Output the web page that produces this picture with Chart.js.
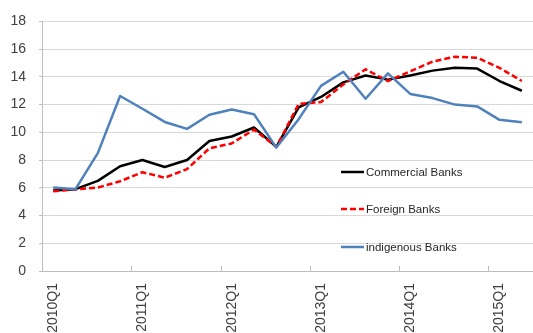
<!DOCTYPE html>
<html>
<head>
<meta charset="utf-8">
<script src="https://cdn.jsdelivr.net/npm/chart.js@4.4.1/dist/chart.umd.min.js"></script>
<style>
  html, body { margin: 0; padding: 0; background: #fff; }
  #wrap { width: 533px; height: 333px; }
</style>
</head>
<body>
<div id="wrap"><canvas id="ratioChart" width="533" height="333"></canvas></div>
<script>
// quarterly series, 2010Q1 - 2015Q2
const quarters = [
    '2010Q1', '2010Q2', '2010Q3', '2010Q4',
    '2011Q1', '2011Q2', '2011Q3', '2011Q4',
    '2012Q1', '2012Q2', '2012Q3', '2012Q4',
    '2013Q1', '2013Q2', '2013Q3', '2013Q4',
    '2014Q1', '2014Q2', '2014Q3', '2014Q4',
    '2015Q1', '2015Q2'
];
const commercialBanks = [5.8, 5.9, 6.5, 7.55, 8.0, 7.5, 8.0, 9.37, 9.7, 10.35, 8.95,
    11.8, 12.55, 13.6, 14.1, 13.8, 14.1, 14.45, 14.65, 14.6, 13.7, 13.0];
const foreignBanks = [5.75, 5.88, 6.02, 6.47, 7.12, 6.73, 7.35, 8.85, 9.2, 10.2, 8.95,
    12.05, 12.18, 13.45, 14.55, 13.7, 14.4, 15.1, 15.45, 15.38, 14.65, 13.7];
const indigenousBanks = [6.02, 5.9, 8.5, 12.62, 11.7, 10.75, 10.25, 11.27, 11.65, 11.3, 8.9,
    10.95, 13.35, 14.37, 12.42, 14.25, 12.77, 12.47, 12.0, 11.87, 10.9, 10.72];
const yTicks = [0, 2, 4, 6, 8, 10, 12, 14, 16, 18];

const axisGrey = '#bfbfbf';
const textColor = '#404040';
const tickFont = { family: '"Liberation Sans", Arial, sans-serif', size: 14 };

// legend sits inside the plot area, one row per series, spread out vertically
const insideLegend = {
    id: 'insideLegend',
    afterDraw(chart, args, opts) {
        const ctx = chart.ctx;
        ctx.save();
        ctx.font = opts.font;
        ctx.textBaseline = 'middle';
        chart.data.datasets.forEach((ds, i) => {
            const y = opts.rows[i];
            ctx.beginPath();
            ctx.strokeStyle = ds.borderColor;
            ctx.lineWidth = ds.borderWidth;
            ctx.setLineDash(ds.borderDash || []);
            ctx.moveTo(opts.x, y);
            ctx.lineTo(opts.x + opts.sample, y);
            ctx.stroke();
            ctx.setLineDash([]);
            ctx.fillStyle = '#262626';
            ctx.fillText(ds.label, opts.x + opts.sample + 2, y + 1);
        });
        ctx.restore();
    }
};

// small tick marks pointing up from the x axis, one per year
const yearTicks = {
    id: 'yearTicks',
    afterDatasetsDraw(chart) {
        const xs = chart.scales.x;
        const ctx = chart.ctx;
        const half = (xs.getPixelForValue(1) - xs.getPixelForValue(0)) / 2;
        const bottom = chart.chartArea.bottom;
        ctx.save();
        ctx.strokeStyle = axisGrey;
        ctx.lineWidth = 1;
        for (let i = 4; i < quarters.length; i += 4) {
            const x = Math.round(xs.getPixelForValue(i) - half) + 0.5;
            ctx.beginPath();
            ctx.moveTo(x, bottom);
            ctx.lineTo(x, bottom - 5);
            ctx.stroke();
        }
        ctx.restore();
    }
};

const ctx = document.getElementById('ratioChart').getContext('2d');
window.ratioChart = new Chart(ctx, {
    type: 'line',
    data: {
        labels: quarters,
        datasets: [{
            label: 'Commercial Banks',
            data: commercialBanks,
            borderColor: '#000000',
            borderWidth: 2.5,
            order: 3
        }, {
            label: 'Foreign Banks',
            data: foreignBanks,
            borderColor: '#ff0000',
            borderWidth: 2.5,
            borderDash: [6, 3],
            order: 2
        }, {
            label: 'indigenous Banks',
            data: indigenousBanks,
            borderColor: '#4f81bd',
            borderWidth: 2.5,
            order: 1
        }]
    },
    options: {
        responsive: false,
        animation: false,
        layout: { padding: { top: 16, right: -3, left: 0, bottom: 0 } },
        elements: {
            point: { radius: 0 },
            line: { tension: 0, borderCapStyle: 'butt', borderJoinStyle: 'round' }
        },
        plugins: {
            legend: { display: false },
            tooltip: { enabled: false },
            insideLegend: {
                x: 341,
                sample: 23,
                rows: [172, 209, 247],
                font: '11.5px "Liberation Sans", Arial, sans-serif'
            }
        },
        scales: {
            x: {
                offset: true,
                grid: { display: true, drawOnChartArea: false, drawTicks: false, offset: true },
                border: { color: axisGrey },
                afterFit: scale => {
                    scale.height = 62;
                    scale.paddingLeft = 0;
                    scale.paddingRight = 0;
                },
                ticks: {
                    autoSkip: false,
                    minRotation: 90,
                    maxRotation: 90,
                    padding: 12,
                    color: textColor,
                    font: tickFont,
                    callback: (val, i) => (i % 4 === 0 ? quarters[i] : '')
                }
            },
            y: {
                min: 0,
                max: 18,
                afterFit: scale => { scale.width = 42; },
                afterBuildTicks: scale => { scale.ticks = yTicks.map(v => ({ value: v })); },
                grid: { color: '#d9d9d9', tickLength: 3, tickColor: axisGrey },
                border: { color: axisGrey },
                ticks: {
                    padding: 13,
                    color: textColor,
                    font: tickFont
                }
            }
        }
    },
    plugins: [insideLegend, yearTicks]
});
</script>
</body>
</html>
